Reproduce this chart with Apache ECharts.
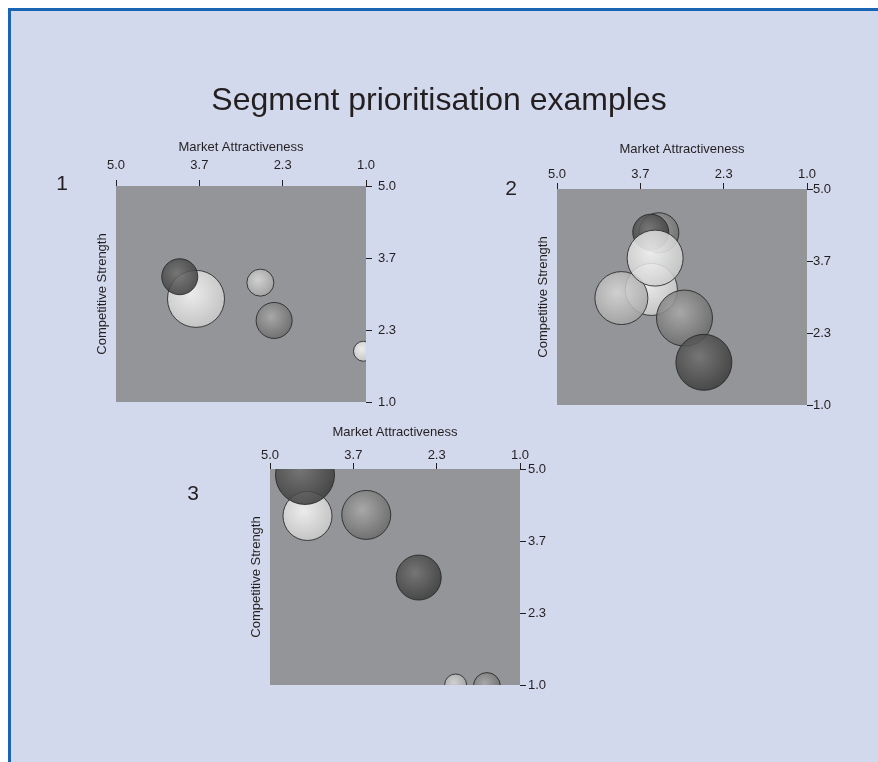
<!DOCTYPE html>
<html>
<head>
<meta charset="utf-8">
<script src="https://cdn.jsdelivr.net/npm/echarts@6/dist/echarts.min.js"></script>
<style>
body { margin: 0; background: #fff; }
#panel { position: absolute; left: 8px; top: 8px; width: 867px; height: 751px; background: #d3d9ed;
  border-left: 3px solid #1a64b4; border-top: 3px solid #1a64b4; }
#chart { position: absolute; left: 0; top: 0; width: 878px; height: 762px; }
</style>
</head>
<body>
<div id="panel"></div>
<div id="chart"></div>
<script>
// x = market attractiveness, y = competitive strength, size = segment size, tone 1 dark .. 4 white
const attract1 = [3.72, 3.98, 2.69, 2.47, 1.04];
const strength1 = [2.91, 3.32, 3.21, 2.51, 1.94];
const size1 = [57, 36, 27, 36, 20];
const tone1 = [4, 1, 3, 2, 4];

const attract2 = [3.37, 3.50, 3.49, 3.97, 3.43, 2.96, 2.65];
const strength2 = [4.19, 4.20, 3.14, 2.98, 3.72, 2.61, 1.79];
const size2 = [40, 36, 52, 53, 56, 56, 56];
const tone2 = [2, 1, 4, 3, 4, 2, 1];

const attract3 = [4.40, 4.44, 3.46, 2.62, 2.03, 1.53];
const strength3 = [4.13, 4.89, 4.15, 2.99, 1.00, 0.98];
const size3 = [49, 59, 49, 45, 22, 27];
const tone3 = [4, 1, 2, 1, 3, 2];

const panelLabels = ['1', '2', '3'];
const xName = 'Market Attractiveness';
const yName = 'Competitive Strength';

const txt = '#231f20';
const font = 'Liberation Sans, Arial, sans-serif';

const toneColors = {
  1: ['#707070', '#393939'],
  2: ['#ababab', '#686868'],
  3: ['#dadada', '#a4a4a4'],
  4: ['#fbfbfb', '#cbcbcb']
};

function bubble(params, api) {
  const c = api.coord([api.value(0), api.value(1)]);
  const t = api.value(3);
  return {
    type: 'circle',
    shape: { cx: c[0], cy: c[1], r: api.value(2) / 2 },
    style: {
      fill: new echarts.graphic.RadialGradient(0.42, 0.4, 0.62, [
        { offset: 0, color: toneColors[t][0] },
        { offset: 1, color: toneColors[t][1] }
      ]),
      stroke: '#262626',
      lineWidth: 1,
      opacity: 0.85
    }
  };
}

const panels = [
  { a: attract1, s: strength1, z: size1, t: tone1, left: 116, top: 186, xm: 14, ng: 32, ym: 12 },
  { a: attract2, s: strength2, z: size2, t: tone2, left: 557, top: 189, xm: 8, ng: 33, ym: 6 },
  { a: attract3, s: strength3, z: size3, t: tone3, left: 270, top: 469, xm: 7, ng: 30, ym: 8 }
];

let grid = [], xAxis = [], yAxis = [], series = [];
panels.forEach((p, k) => {
  grid.push({
    left: p.left, top: p.top, width: 250, height: 216,
    show: true, backgroundColor: '#939598', borderWidth: 0
  });
  xAxis.push({
    type: 'value', gridIndex: k, position: 'top', inverse: true,
    min: 1, max: 5, interval: 4 / 3,
    name: xName, nameLocation: 'middle', nameGap: p.ng,
    nameTextStyle: { color: txt, fontSize: 13, fontFamily: font },
    axisLine: { show: false },
    axisTick: { show: true, length: 6, lineStyle: { color: txt, width: 1 } },
    axisLabel: { color: txt, fontSize: 13, fontFamily: font, margin: p.xm,
      formatter: v => v.toFixed(1) },
    splitLine: { show: false }
  });
  yAxis.push({
    type: 'value', gridIndex: k, position: 'right',
    min: 1, max: 5, interval: 4 / 3,
    axisLine: { show: false },
    axisTick: { show: true, length: 6, lineStyle: { color: txt, width: 1 } },
    axisLabel: { color: txt, fontSize: 13, fontFamily: font, margin: p.ym,
      formatter: v => v.toFixed(1) },
    splitLine: { show: false }
  });
  // left axis only carries the name
  yAxis.push({
    type: 'value', gridIndex: k, position: 'left', min: 1, max: 5,
    name: yName, nameLocation: 'middle', nameGap: 7, nameRotate: 90,
    nameTextStyle: { color: txt, fontSize: 13, fontFamily: font },
    axisLine: { show: false }, axisTick: { show: false },
    axisLabel: { show: false }, splitLine: { show: false }
  });
  series.push({
    type: 'custom', xAxisIndex: k, yAxisIndex: k * 2, clip: true,
    renderItem: bubble,
    encode: { x: 0, y: 1 },
    data: p.a.map((x, i) => [x, p.s[i], p.z[i], p.t[i]])
  });
});

const labelPos = [[62, 184], [511, 189], [193, 494]];

const chart = echarts.init(document.getElementById('chart'));
chart.setOption({
  animation: false,
  backgroundColor: 'transparent',
  graphic: [
    { type: 'text', left: 'center', top: 85,
      style: { text: 'Segment prioritisation examples', fill: txt, font: '32px ' + font } }
  ].concat(panelLabels.map((s, i) => ({
    type: 'text', x: labelPos[i][0], y: labelPos[i][1],
    style: { text: s, fill: txt, font: '21px ' + font, textAlign: 'center', textVerticalAlign: 'middle' }
  }))),
  grid: grid,
  xAxis: xAxis,
  yAxis: yAxis,
  series: series
});
</script>
</body>
</html>
